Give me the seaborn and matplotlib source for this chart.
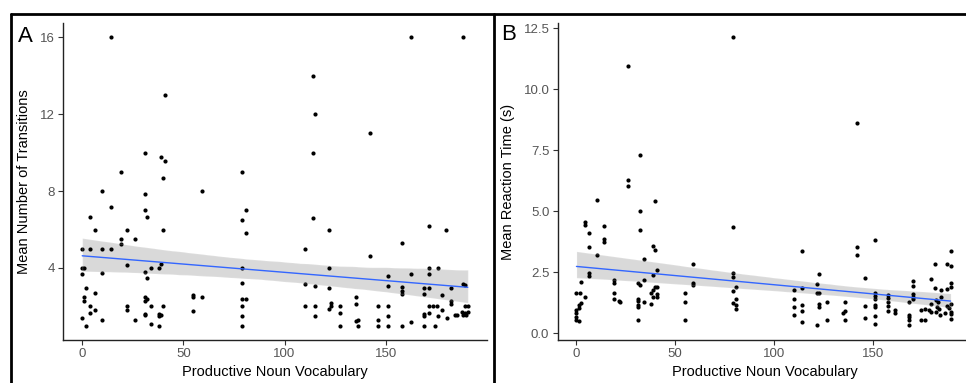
import numpy as np
import pandas as pd
import matplotlib
matplotlib.use("Agg")
import matplotlib.pyplot as plt
import seaborn as sns
from matplotlib.lines import Line2D

# ---------------- data ----------------
vocab_A = [14.2, 162.3, 188.3, 114.2, 115.2, 41, 142.2, 31, 114.2, 39, 41, 19.1, 79.1, 40, 10, 59.1,
           31, 14.2, 31, 81.2, 4, 32, 114.2, 79.1, 6.1, 22.1, 40, 122, 171.2, 180, 81.2, 19.1, 19.1,
           26, 158.3, 0, 4, 10, 14.2, 110, 142.2, 22.1, 39, 34, 38, 0, 1, 79.1, 122, 171.2, 176, 0,
           10, 31, 32, 151, 162.3, 171.2, 79.1, 110, 115.2, 122, 151, 158.3, 169.2, 171.2, 182.2,
           188.3, 189.3, 2, 6.1, 55, 55, 59.1, 1, 1, 31, 32, 31, 79.1, 81.2, 135.3, 158.3, 158.3,
           169.2, 178.1, 182.2, 135.3, 123, 123, 122, 4, 22.1, 22.1, 34, 40, 79.1, 110, 115.2, 127.2,
           146.3, 151, 171.2, 173.2, 175.2, 189.3, 190.6, 182.2, 6.1, 55, 178.1, 4, 31, 31, 38, 39,
           38, 127.2, 171.2, 169.2, 169.2, 151, 79.1, 115.2, 176, 184.5, 185.5, 188.3, 189.6, 187.7,
           189.3, 190.6, 0, 10, 26, 135.3, 136.3, 146.3, 162.3, 180.2, 34, 2, 38, 79.1, 127.2, 136.3,
           146.3, 151, 158.3, 169.2, 174.2]
transitions_A = [16, 16, 16, 14, 12, 13, 11, 10, 10, 9.75, 9.55, 9, 9, 8.7, 8, 8,
                 7.85, 7.16, 7.0, 7.0, 6.65, 6.65, 6.6, 6.5, 6.0, 6.0, 6.0, 6.0, 6.2, 6.0, 5.8, 5.5, 5.27,
                 5.5, 5.3, 5, 5, 5, 5, 5, 4.6, 4.14, 4.2, 4, 4, 4, 4, 4, 4, 4, 4, 3.67,
                 3.72, 3.79, 3.5, 3.6, 3.67, 3.67, 3.22, 3.18, 3.08, 2.98, 3.08, 3.0, 2.98, 2.98, 2.98,
                 3.15, 3.12, 2.98, 2.7, 2.6, 2.5, 2.5, 2.5, 2.3, 2.5, 2.4, 2.3, 2.4, 2.4, 2.5, 2.8, 2.65,
                 2.63, 2.6, 2.3, 2.14, 2.18, 2.04, 1.87, 2, 2, 1.8, 2, 2, 2, 2, 2, 2,
                 2, 2, 2, 2, 2, 2, 2, 2.1, 1.8, 1.76, 1.8, 1.66, 1.6, 1.55, 1.6, 1.55,
                 1.5, 1.66, 1.66, 1.6, 1.5, 1.5, 1.5, 1.5, 1.5, 1.55, 1.55, 1.55, 1.55, 1.7,
                 1.66, 1.7, 1.4, 1.3, 1.3, 1.25, 1.3, 1.3, 1.2, 1.4, 1.1, 1, 1, 1, 1, 1,
                 1, 1, 1, 1, 1]

vocab_B = [79.1, 26.1, 142, 32, 26.1, 26.1, 10.3, 40, 32, 79.1, 4.2, 4.2, 14.2, 32, 6.2, 151, 14.2,
           14.2, 189.5, 114, 6.2, 39, 40, 142, 142, 10.3, 34, 59, 181.8, 187.5, 189.5, 41, 79.1,
           79.1, 123, 6.2, 6.2, 39, 146, 179.8, 170.6, 170.6, 19.2, 19.2, 34, 2.2, 59, 59, 31, 32,
           122, 189.5, 189.5, 40, 41, 80.8, 114, 181.8, 39, 38, 39, 184.5, 187.5, 110, 79.1, 55,
           151, 151, 151, 158, 158, 0, 2, 122, 123, 19.2, 170.6, 170.6, 170.6, 41, 41, 4.2, 19.2,
           184.5, 80.8, 31, 31, 110, 182, 183, 21.4, 22, 34, 55, 127, 136, 158, 168.5, 79.1, 2.2,
           1.2, 179.8, 151, 151, 123, 123, 31, 31, 38, 114, 146, 110, 158, 189.5, 187.5, 188.5,
           182.5, 183.5, 80.8, 80.8, 1.2, 174.5, 176.6, 178.6, 179.6, 161.6, 161.6, 158, 136, 135,
           0, 0, 114, 189.5, 189.5, 186.5, 182, 184, 168.5, 168.5, 168.5, 110, 151, 146, 0, 0,
           174.5, 176.6, 189.5, 136, 127, 31, 55, 114, 1.2, 151, 168.5, 122]
reaction_B = [12.13, 10.96, 8.63, 7.32, 6.28, 6.04, 5.46, 5.41, 5.03, 4.37, 4.55, 4.45, 4.4, 4.23, 4.11,
              3.83, 3.85, 3.74, 3.36, 3.36, 3.55, 3.58, 3.42, 3.55, 3.21, 3.21, 3.05, 2.84, 2.84, 2.84,
              2.76, 2.58, 2.49, 2.30, 2.43, 2.46, 2.35, 2.38, 2.27, 2.24, 2.16, 1.94, 2.19, 2.05, 2.19,
              2.12, 2.05, 1.97, 2.05, 1.98, 2.02, 2.08, 1.91, 1.89, 1.89, 1.89, 1.87, 1.87, 1.78, 1.67,
              1.5, 1.78, 1.82, 1.78, 1.75, 1.67, 1.64, 1.53, 1.43, 1.58, 1.46, 1.64, 1.64, 1.64, 1.64,
              1.64, 1.61, 1.5, 1.39, 1.61, 1.5, 1.48, 1.43, 1.5, 1.43, 1.43, 1.32, 1.39, 1.37, 1.28,
              1.34, 1.30, 1.27, 1.30, 1.30, 1.30, 1.30, 1.30, 1.26, 1.23, 1.15, 1.2, 1.16, 1.09, 1.2,
              1.09, 1.17, 1.07, 1.2, 1.15, 1.12, 1.09, 1.12, 1.2, 1.12, 1.03, 1.09, 1.01, 1.16, 0.98,
              1.04, 0.96, 0.98, 0.96, 0.89, 0.96, 0.85, 0.93, 0.92, 0.85, 0.96, 0.82, 0.92, 0.89, 0.79,
              0.82, 0.89, 0.75, 0.75, 0.66, 0.55, 0.74, 0.71, 0.64, 0.68, 0.57, 0.57, 0.57, 0.6, 0.57,
              0.55, 0.55, 0.57, 0.48, 0.49, 0.38, 0.34, 0.33]

x_ticks = [0, 50, 100, 150]
yticks_A = [4, 8, 12, 16]
yticks_B = [0.0, 2.5, 5.0, 7.5, 10.0, 12.5]
yticklabels_B = ["0.0", "2.5", "5.0", "7.5", "10.0", "12.5"]

xlabel = "Productive Noun Vocabulary"
ylabel_A = "Mean Number of Transitions"
ylabel_B = "Mean Reaction Time (s)"

dfA = pd.DataFrame({"vocab": vocab_A, "value": transitions_A})
dfB = pd.DataFrame({"vocab": vocab_B, "value": reaction_B})

# ---------------- style ----------------
sns.set_style("white")
plt.rcParams["font.family"] = ["Liberation Sans", "DejaVu Sans"]

W, H = 966, 383
fig = plt.figure(figsize=(W / 100, H / 100), dpi=100)

def fx(px):
    return px / W

def fy(py):
    return 1 - py / H

axA = fig.add_axes([fx(63), fy(340), fx(487) - fx(63), fy(23) - fy(340)])
axB = fig.add_axes([fx(557.7), fy(340), fx(971.5) - fx(557.7), fy(23) - fy(340)])


def panel(ax, df, ylim, yticks, yticklabels, ylabel, ylab_x):
    sns.scatterplot(data=df, x="vocab", y="value", ax=ax, color="black", s=9,
                    linewidth=0, legend=False)
    sns.regplot(data=df, x="vocab", y="value", ax=ax, scatter=False, color="black",
                ci=95, seed=3, n_boot=1000, line_kws={"alpha": 0})
    sns.regplot(data=df, x="vocab", y="value", ax=ax, scatter=False, color="#3366FF",
                ci=None, line_kws={"lw": 1.0})
    ax.set_xlim(-9.5, 200.1)
    ax.set_ylim(*ylim)
    ax.set_xticks(x_ticks)
    ax.set_xticklabels([str(t) for t in x_ticks])
    ax.set_yticks(yticks)
    ax.set_yticklabels(yticklabels)
    for s in ["top", "right"]:
        ax.spines[s].set_visible(False)
    for s in ["left", "bottom"]:
        ax.spines[s].set_color("#222222")
        ax.spines[s].set_linewidth(1.0)
    ax.tick_params(axis="both", which="major", length=3.5, width=0.8, color="#333333",
                   labelcolor="#555555", labelsize=9.5, pad=2.5, bottom=True, left=True)
    ax.set_xlabel(xlabel, fontsize=10.5, color="black")
    ax.set_ylabel(ylabel, fontsize=10.5, color="black")
    ax.xaxis.set_label_coords(0.5, -0.08)
    ax.yaxis.set_label_coords(ylab_x, 0.5)


panel(axA, dfA, (0.25, 16.75), yticks_A, [str(t) for t in yticks_A], ylabel_A, -0.075)
panel(axB, dfB, (-0.27, 12.72), yticks_B, yticklabels_B, ylabel_B, -0.103)

# panel borders
lw = 2.0
fig.add_artist(Line2D([fx(11), 1.0], [fy(14), fy(14)], transform=fig.transFigure, color="black", lw=lw))
fig.add_artist(Line2D([fx(11), fx(11)], [fy(14), 0], transform=fig.transFigure, color="black", lw=lw))
fig.add_artist(Line2D([fx(494), fx(494)], [fy(14), 0], transform=fig.transFigure, color="black", lw=lw))

fig.text(fx(18), fy(36), "A", fontsize=16, color="black", ha="left", va="center")
fig.text(fx(501), fy(35), "B", fontsize=16, color="black", ha="left", va="center")

fig.savefig("out.png", dpi=100)
